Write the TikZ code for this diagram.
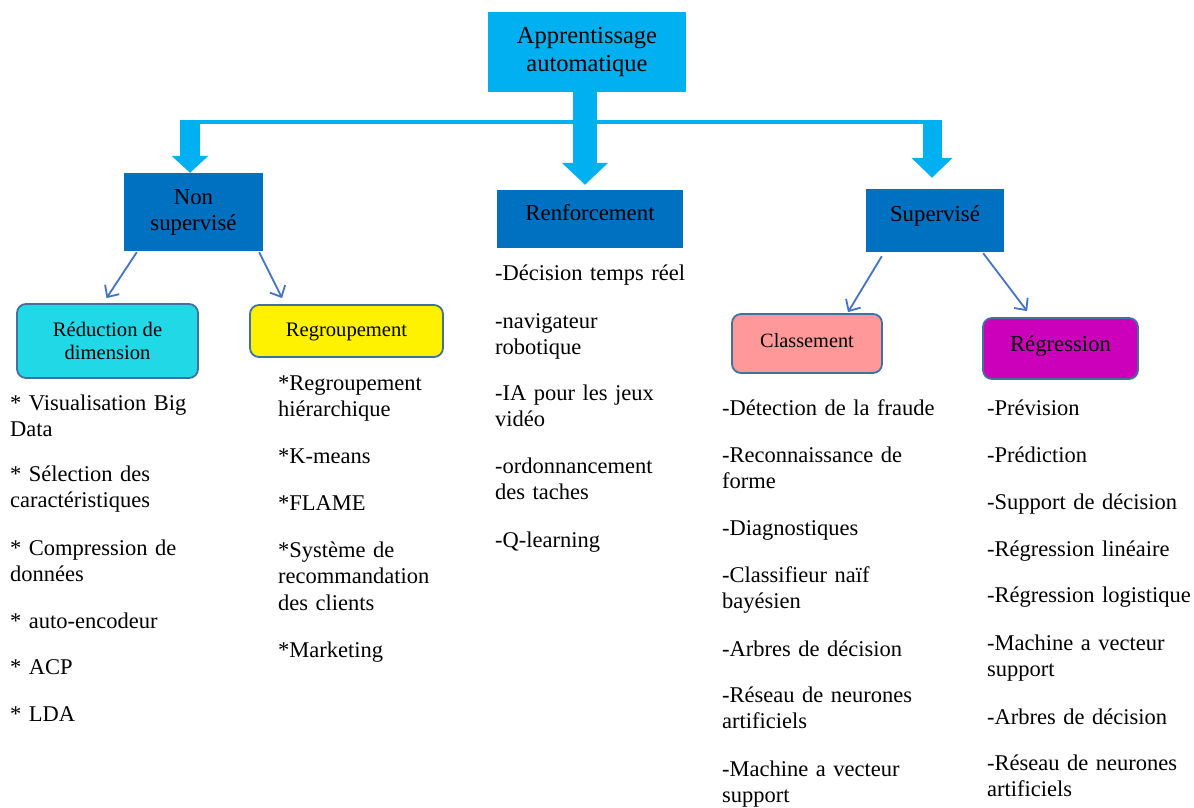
\documentclass[tikz,border=0pt]{standalone}
\usepackage{fontspec}
\setmainfont{Liberation Serif}
\usetikzlibrary{arrows.meta,calc}

\definecolor{rootblue}{HTML}{00B0F0}
\definecolor{catblue}{HTML}{0070C0}
\definecolor{linkblue}{HTML}{4472C4}
\definecolor{edgeblue}{HTML}{41719C}
\definecolor{reduccyan}{HTML}{20D8E6}
\definecolor{salmon}{HTML}{FF9999}
\definecolor{magentabox}{HTML}{CC00BB}

\tikzset{
  rootbox/.style={rectangle, fill=rootblue, draw=none, minimum width=198pt, minimum height=80pt,
    align=center, font=\fontsize{24.5}{28}\selectfont, inner sep=0pt},
  catbox/.style={rectangle, fill=catblue, draw=none, align=center,
    font=\fontsize{22.8}{26}\selectfont, inner sep=0pt},
  subbox/.style={rectangle, rounded corners=9pt, draw=edgeblue, line width=1.8pt, align=center,
    font=\fontsize{20.6}{22.5}\selectfont, inner sep=0pt},
  item/.style={anchor=base west, inner sep=0pt, text width=260pt, align=left,
    font=\fontsize{22.5}{26.5}\selectfont},
  fatarrow/.style={draw=rootblue, line width=#1},
  thinarrow/.style={draw=linkblue, line width=1.8pt, -{Straight Barb[length=9pt,width=17pt]}},
}

\begin{document}
\begin{tikzpicture}[x=1pt,y=-1pt]
\useasboundingbox (0,0) rectangle (1194,808);

% main boxes
\node[rootbox] (root) at (587,52) {Apprentissage\\automatique};
\node[catbox, minimum width=139pt, minimum height=78pt] (nonsup) at (193.5,212) {Non\\supervisé};
\node[catbox, minimum width=186pt, minimum height=58pt, text height=16pt, text depth=14pt] (renf) at (590,219) {Renforcement};
\node[catbox, minimum width=138pt, minimum height=63pt, text height=16pt, text depth=15pt] (sup) at (935,220.5) {Supervisé};

% sub-category boxes
\node[subbox, fill=reduccyan, minimum width=181pt, minimum height=74pt] (reduc) at (107.5,341) {Réduction de\\dimension};
\node[subbox, fill=yellow, minimum width=193pt, minimum height=52pt, text height=15pt, text depth=5pt] (regroup) at (346.5,331) {Regroupement};
\node[subbox, fill=salmon, minimum width=150pt, minimum height=59pt, text height=15pt, text depth=8pt,
      font=\fontsize{20.3}{22}\selectfont] (classe) at (807,343.5) {Classement};
\node[subbox, fill=magentabox, minimum width=155pt, minimum height=61pt, text height=16pt, text depth=11pt,
      font=\fontsize{22.7}{26}\selectfont] (regress) at (1060.5,348.5) {Régression};

% distribution bar and fat arrows
\coordinate (barL) at (190,122);
\coordinate (barR) at (932,122);
\draw[draw=rootblue, line width=3.5pt] ($(barL)+(-10,0)$) -- ($(barR)+(10,0)$);
\draw[fatarrow=20pt, -{Triangle[width=36pt,length=17pt]}] ($(barL)+(0,-2)$) -- (barL |- nonsup.north);
\draw[fatarrow=24pt, -{Triangle[width=45pt,length=22pt]}] ($(root.south)+(-2,0)$) -- ($(root.south |- renf.north)+(-2,-5)$);
\draw[fatarrow=19pt, -{Triangle[width=40pt,length=20pt]}] ($(barR)+(0,-2)$) -- ($(barR |- sup.north)+(0,-11)$);

% thin connectors
\draw[thinarrow] ($(nonsup.south west)+(13,1)$) -- ($(reduc.north)+(-1,-5)$);
\draw[thinarrow] ($(nonsup.south east)+(-4,1)$) -- ($(regroup.north west)+(33,-6)$);
\draw[thinarrow] ($(sup.south west)+(16,4)$) -- ($(classe.north)+(41,-1)$);
\draw[thinarrow] ($(sup.south east)+(-21,1)$) -- ($(regress.north west)+(45,-6)$);

% unsupervised: dimension reduction
\node[item] (r1) at (10,410) {* Visualisation Big\\Data};
\node[item] (r2) at (10,481) {* Sélection des\\caractéristiques};
\node[item] (r3) at (10,555) {* Compression de\\données};
\node[item] (r4) at (10,628) {* auto-encodeur};
\node[item] (r5) at (10,674) {* ACP};
\node[item] (r6) at (10,721) {* LDA};

% unsupervised: clustering
\node[item] (g1) at (278,390) {*Regroupement\\hiérarchique};
\node[item] (g2) at (278,463) {*K-means};
\node[item] (g3) at (278,510) {*FLAME};
\node[item] (g4) at (278,557) {*Système de\\recommandation\\des clients};
\node[item] (g5) at (278,657) {*Marketing};

% reinforcement
\node[item] (f1) at (495,280) {-Décision temps réel};
\node[item] (f2) at (495,328) {-navigateur\\robotique};
\node[item] (f3) at (495,400) {-IA pour les jeux\\vidéo};
\node[item] (f4) at (495,473) {-ordonnancement\\des taches};
\node[item] (f5) at (495,547) {-Q-learning};

% supervised: classification
\node[item] (c1) at (722,415) {-Détection de la fraude};
\node[item] (c2) at (722,462) {-Reconnaissance de\\forme};
\node[item] (c3) at (722,535) {-Diagnostiques};
\node[item] (c4) at (722,582) {-Classifieur naïf\\bayésien};
\node[item] (c5) at (722,656) {-Arbres de décision};
\node[item] (c6) at (722,702) {-Réseau de neurones\\artificiels};
\node[item] (c7) at (722,776) {-Machine a vecteur\\support};

% supervised: regression
\node[item] (s1) at (987,415) {-Prévision};
\node[item] (s2) at (987,462) {-Prédiction};
\node[item] (s3) at (987,509) {-Support de décision};
\node[item] (s4) at (987,556) {-Régression linéaire};
\node[item] (s5) at (987,602) {-Régression logistique};
\node[item] (s6) at (987,650) {-Machine a vecteur\\support};
\node[item] (s7) at (987,724) {-Arbres de décision};
\node[item] (s8) at (987,770) {-Réseau de neurones\\artificiels};
\end{tikzpicture}
\end{document}
